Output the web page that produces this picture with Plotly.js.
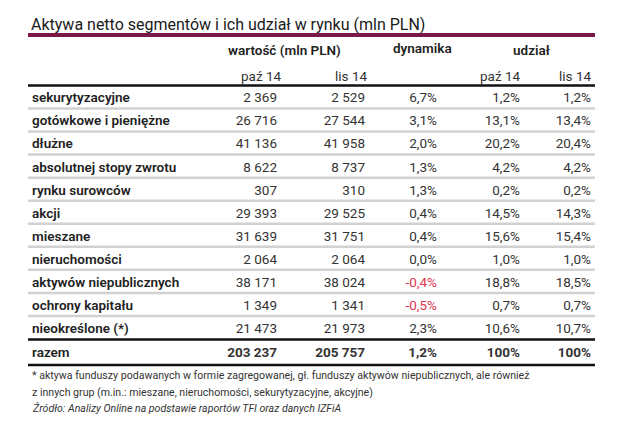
<!DOCTYPE html>
<html><head><meta charset="utf-8">
<script src="https://cdn.plot.ly/plotly-3.0.1.min.js"></script>
<style>html,body{margin:0;padding:0;background:#fff}#chart{width:640px;height:448px}</style>
</head><body><div id="chart"></div>
<script>
// ---- data ----
const segments = ["sekurytyzacyjne","gotówkowe i pieniężne","dłużne","absolutnej stopy zwrotu","rynku surowców","akcji","mieszane","nieruchomości","aktywów niepublicznych","ochrony kapitału","nieokreślone (*)"];
const valuesOct = [2369,26716,41136,8622,307,29393,31639,2064,38171,1349,21473];
const valuesNov = [2529,27544,41958,8737,310,29525,31751,2064,38024,1341,21973];
const dynamics  = [6.7,3.1,2.0,1.3,1.3,0.4,0.4,0.0,-0.4,-0.5,2.3];
const shareOct  = [1.2,13.1,20.2,4.2,0.2,14.5,15.6,1.0,18.8,0.7,10.6];
const shareNov  = [1.2,13.4,20.4,4.2,0.2,14.3,15.4,1.0,18.5,0.7,10.7];
const totalLabel = "razem";
const totalOct = 203237;
const totalNov = 205757;
const totalDynamics = 1.2;
const totalShareOct = 100;
const totalShareNov = 100;
const groupHeaders = ["wartość (mln PLN)","dynamika","udział"];
const periodHeaders = ["paź 14","lis 14","paź 14","lis 14"];
const chartTitle = "Aktywa netto segmentów i ich udział w rynku (mln PLN)";
const notes = [
  "* aktywa funduszy podawanych w formie zagregowanej, gł. funduszy aktywów niepublicznych, ale również",
  "z innych grup (m.in.: mieszane, nieruchomości, sekurytyzacyjne, akcyjne)"
];
const sourceNote = "Źródło: Analizy Online na podstawie raportów TFI oraz danych IZFiA";

// ---- formatting ----
const fmtInt = n => String(n).replace(/\B(?=(\d{3})+(?!\d))/g, " ");
const fmtPct = v => (Number.isInteger(v) && v >= 100 ? String(v) : v.toFixed(1).replace(".", ",")) + "%";

// ---- layout geometry ----
const FONT = "Roboto, sans-serif";
const TXT = "#333333";
const HEAD = "#222222";
const RED = "#dc3550";
const rowY = i => 99 + 23.05 * i;
const totalY = 354;
const colX = {label: 32, oct: 277, nov: 365, dyn: 437, sOct: 520, sNov: 591};
const L = 28, R = 595;
const FS = 13.5;

const n = segments.length;
const ys = segments.map((_, i) => rowY(i)).concat([totalY]);
const boldFlags = segments.map(() => false).concat([true]);

function col(x, texts, pos, opts) {
  opts = opts || {};
  return {
    type: "scatter", mode: "text", x: texts.map(() => x), y: ys, text: texts,
    textposition: pos, hoverinfo: "skip", cliponaxis: false,
    textfont: {family: FONT, size: opts.size || FS, color: opts.color || TXT,
               weight: opts.weight || texts.map((_, i) => boldFlags[i] ? 700 : 400)}
  };
}

const traces = [
  col(colX.label, segments.concat([totalLabel]), "middle right", {weight: 600, size: FS, color: HEAD}),
  col(colX.oct, valuesOct.concat([totalOct]).map(fmtInt), "middle left"),
  col(colX.nov, valuesNov.concat([totalNov]).map(fmtInt), "middle left"),
  col(colX.dyn, dynamics.concat([totalDynamics]).map(fmtPct), "middle left",
      {color: dynamics.concat([totalDynamics]).map(v => v < 0 ? RED : TXT)}),
  col(colX.sOct, shareOct.concat([totalShareOct]).map(fmtPct), "middle left"),
  col(colX.sNov, shareNov.concat([totalShareNov]).map(fmtPct), "middle left")
];

const shapes = [];
const hline = (y, color, w) => shapes.push({type: "line", xref: "x", yref: "y", x0: L, x1: R, y0: y, y1: y, line: {color: color, width: w}});
hline(35, "#7a1848", 4);
hline(85.5, "#111", 2.5);
for (let i = 0; i < n - 1; i++) hline(rowY(i) + 9.5, "#d2d2d2", 2.5);
hline(339.5, "#111", 2.5);
hline(365, "#111", 2.5);

const ann = (x, y, text, opts) => Object.assign({
  xref: "x", yref: "y", x: x, y: y, text: text, showarrow: false,
  xanchor: "center", yanchor: "middle",
  font: {family: FONT, size: FS, color: HEAD}
}, opts || {});
const headFont = {family: FONT, size: FS, color: HEAD, weight: 600};
const subFont = {family: FONT, size: FS, color: TXT};
const noteFont = {family: FONT, size: 10.6, color: "#333"};

const annotations = [
  ann(284, 50, groupHeaders[0], {font: headFont}),
  ann(422, 48, groupHeaders[1], {font: headFont}),
  ann(531, 50, groupHeaders[2], {font: headFont}),
  ann(261, 76, periodHeaders[0], {font: subFont}),
  ann(351, 76, periodHeaders[1], {font: subFont}),
  ann(500, 76, periodHeaders[2], {font: subFont}),
  ann(575, 76, periodHeaders[3], {font: subFont}),
  ann(30, 375, notes[0], {xanchor: "left", font: noteFont}),
  ann(30, 392, notes[1], {xanchor: "left", font: noteFont}),
  ann(30, 408, sourceNote, {xanchor: "left", font: Object.assign({}, noteFont, {style: "italic"})})
];

const layout = {
  width: 640, height: 448,
  margin: {l: 0, r: 0, t: 0, b: 0},
  paper_bgcolor: "#fff", plot_bgcolor: "#fff",
  showlegend: false,
  title: {text: chartTitle, x: 31 / 640, xanchor: "left", xref: "paper", y: 1 - 24 / 448, yanchor: "middle", yref: "paper",
          font: {family: FONT, size: 16, color: "#1a1a1a"}},
  xaxis: {range: [0, 640], visible: false, fixedrange: true},
  yaxis: {range: [448, 0], visible: false, fixedrange: true},
  shapes: shapes, annotations: annotations
};

Plotly.newPlot("chart", traces, layout, {staticPlot: true, displayModeBar: false});
</script></body></html>
